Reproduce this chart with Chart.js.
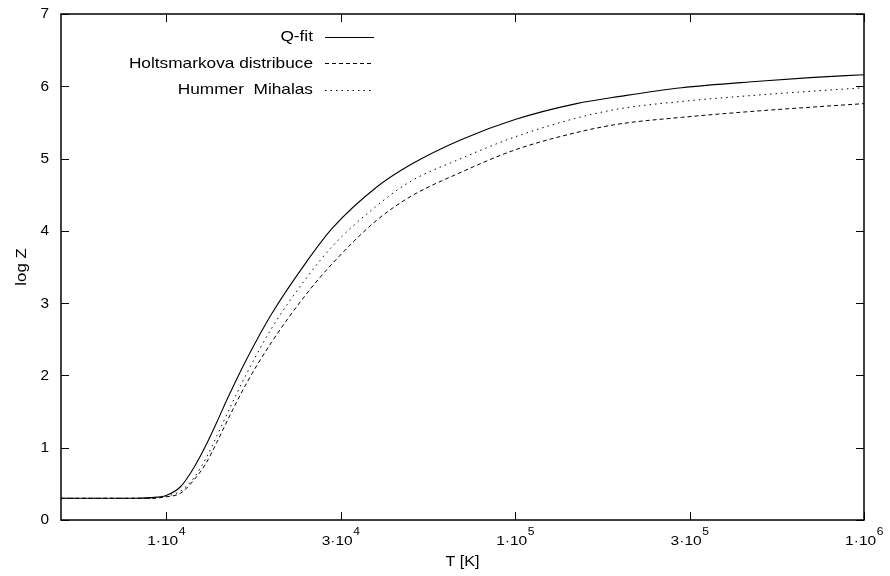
<!DOCTYPE html>
<html><head><meta charset="utf-8">
<script src="https://cdn.jsdelivr.net/npm/chart.js@4.4.1/dist/chart.umd.min.js"></script>
<style>html,body{margin:0;padding:0;background:#fff}#wrap{width:890px;height:576px;position:relative}</style>
</head><body><div id="wrap"><canvas id="c" width="890" height="576"></canvas></div>
<script>
// ---- data ----
const temperatures = [5000, 6000, 7000, 8000, 9000, 10000, 11000, 12000, 13000, 14000, 15000, 17000, 20000, 25000, 30000, 40000, 50000, 70000, 100000, 150000, 200000, 300000, 500000, 700000, 1000000];
const qFit          = [0.30, 0.30, 0.30, 0.30, 0.31, 0.34, 0.46, 0.72, 1.03, 1.36, 1.68, 2.22, 2.84, 3.54, 4.04, 4.60, 4.91, 5.26, 5.54, 5.76, 5.86, 5.98, 6.07, 6.12, 6.16];
const holtsmark     = [0.30, 0.30, 0.30, 0.30, 0.30, 0.32, 0.37, 0.55, 0.78, 1.08, 1.38, 1.89, 2.45, 3.10, 3.55, 4.14, 4.47, 4.81, 5.12, 5.36, 5.48, 5.57, 5.66, 5.71, 5.76];
const hummerMihalas = [0.30, 0.30, 0.30, 0.30, 0.30, 0.33, 0.40, 0.58, 0.85, 1.17, 1.48, 2.02, 2.64, 3.32, 3.79, 4.34, 4.68, 5.00, 5.30, 5.56, 5.69, 5.79, 5.88, 5.93, 5.98];
const seriesLabels  = ['Q-fit', 'Holtsmarkova distribuce', 'Hummer  Mihalas'];
const xTickValues   = [10000, 31623, 100000, 316228, 1000000];
const xTickMantissa = ['1', '3', '1', '3', '1'];
const xTickExponent = ['4', '4', '5', '5', '6'];
const yTickValues   = [0, 1, 2, 3, 4, 5, 6, 7];
const xAxisTitle = 'T [K]';
const yAxisTitle = 'log Z';

const FONT = '"Liberation Sans", Arial, Helvetica, sans-serif';
const STRETCH = 1.15;

function pts(arr) { return temperatures.map((t, i) => ({ x: t, y: arr[i] })); }

function txt(ctx, s, x, y, size, align, baseline, stretch) {
  ctx.save();
  ctx.translate(x, y);
  ctx.scale(stretch || STRETCH, 1);
  ctx.font = size + 'px ' + FONT;
  ctx.textAlign = align;
  ctx.textBaseline = baseline;
  ctx.fillStyle = '#000';
  ctx.fillText(s, 0, 0);
  ctx.restore();
}

const framePlugin = {
  id: 'framePlugin',
  afterDraw(chart) {
    const ctx = chart.ctx, a = chart.chartArea;
    const xs = chart.scales.x, ys = chart.scales.y;
    ctx.save();
    ctx.strokeStyle = '#000';
    ctx.lineWidth = 1;
    ctx.setLineDash([]);
    ctx.beginPath();
    yTickValues.forEach(v => {
      const py = Math.round(ys.getPixelForValue(v)) + 0.5;
      ctx.moveTo(a.left, py); ctx.lineTo(a.left + 8, py);
      ctx.moveTo(a.right, py); ctx.lineTo(a.right - 8, py);
    });
    xTickValues.forEach(v => {
      const px = Math.round(xs.getPixelForValue(v)) + 0.5;
      ctx.moveTo(px, a.bottom); ctx.lineTo(px, a.bottom - 8);
      ctx.moveTo(px, a.top); ctx.lineTo(px, a.top + 8);
    });
    ctx.stroke();
    ctx.lineWidth = 1.5;
    ctx.strokeRect(a.left, a.top, a.right - a.left, a.bottom - a.top);

    // y tick labels
    yTickValues.forEach(v => {
      txt(ctx, String(v), a.left - 12, ys.getPixelForValue(v) + 0.5, 14, 'right', 'middle', 1.1);
    });
    // x tick labels with superscript exponent
    xTickValues.forEach((v, i) => {
      const base = xTickMantissa[i] + '\u00b710';
      const ex = xTickExponent[i];
      ctx.font = '13.5px ' + FONT;
      const w1 = ctx.measureText(base).width * STRETCH;
      ctx.font = '10.5px ' + FONT;
      const w2 = ctx.measureText(ex).width * STRETCH;
      const x0 = xs.getPixelForValue(v) - (w1 + w2) / 2;
      txt(ctx, base, x0, 544.5, 13.5, 'left', 'alphabetic');
      txt(ctx, ex, x0 + w1 + 0.5, 535, 10.5, 'left', 'alphabetic');
    });
    // axis titles
    txt(ctx, xAxisTitle, (a.left + a.right) / 2, 566, 14, 'center', 'alphabetic');
    ctx.save();
    ctx.translate(22, (a.top + a.bottom) / 2);
    ctx.rotate(-Math.PI / 2);
    txt(ctx, yAxisTitle, 0, 0, 14, 'center', 'middle', 1.2);
    ctx.restore();

    // legend
    const rows = [36.5, 63, 89.5];
    chart.data.datasets.forEach((ds, i) => {
      txt(ctx, ds.label, 313, rows[i] + 0.5, 14.5, 'right', 'middle', 1.19);
      ctx.save();
      ctx.strokeStyle = ds.borderColor;
      ctx.lineWidth = ds.borderWidth;
      ctx.setLineDash(ds.borderDash || []);
      ctx.beginPath();
      ctx.moveTo(325, Math.round(rows[i]) + 0.5);
      ctx.lineTo(374, Math.round(rows[i]) + 0.5);
      ctx.stroke();
      ctx.restore();
    });
    ctx.restore();
  }
};

const hidden = {
  display: true,
  ticks: { display: false },
  grid: { display: false },
  border: { display: false },
  title: { display: false }
};

new Chart(document.getElementById('c'), {
  type: 'line',
  data: {
    datasets: [
      { label: seriesLabels[0], data: pts(qFit), borderColor: '#000', borderWidth: 1.1, borderDash: [], pointRadius: 0, fill: false, cubicInterpolationMode: 'monotone' },
      { label: seriesLabels[1], data: pts(holtsmark), borderColor: '#000', borderWidth: 1, borderDash: [4, 3], pointRadius: 0, fill: false, cubicInterpolationMode: 'monotone' },
      { label: seriesLabels[2], data: pts(hummerMihalas), borderColor: '#000', borderWidth: 1, borderDash: [1.5, 4], pointRadius: 0, fill: false, cubicInterpolationMode: 'monotone' }
    ]
  },
  options: {
    responsive: false,
    animation: false,
    devicePixelRatio: 1,
    layout: { padding: { left: 61, right: 26, top: 14, bottom: 56 } },
    plugins: { legend: { display: false }, tooltip: { enabled: false } },
    scales: {
      x: Object.assign({}, hidden, {
        type: 'logarithmic', min: 5000, max: 1000000,
        afterFit: s => { s.height = 0; },
        afterBuildTicks: s => { s.ticks = xTickValues.map(v => ({ value: v })); }
      }),
      y: Object.assign({}, hidden, {
        type: 'linear', min: 0, max: 7,
        afterFit: s => { s.width = 0; },
        afterBuildTicks: s => { s.ticks = yTickValues.map(v => ({ value: v })); }
      })
    }
  },
  plugins: [framePlugin]
});
</script>
</body></html>
